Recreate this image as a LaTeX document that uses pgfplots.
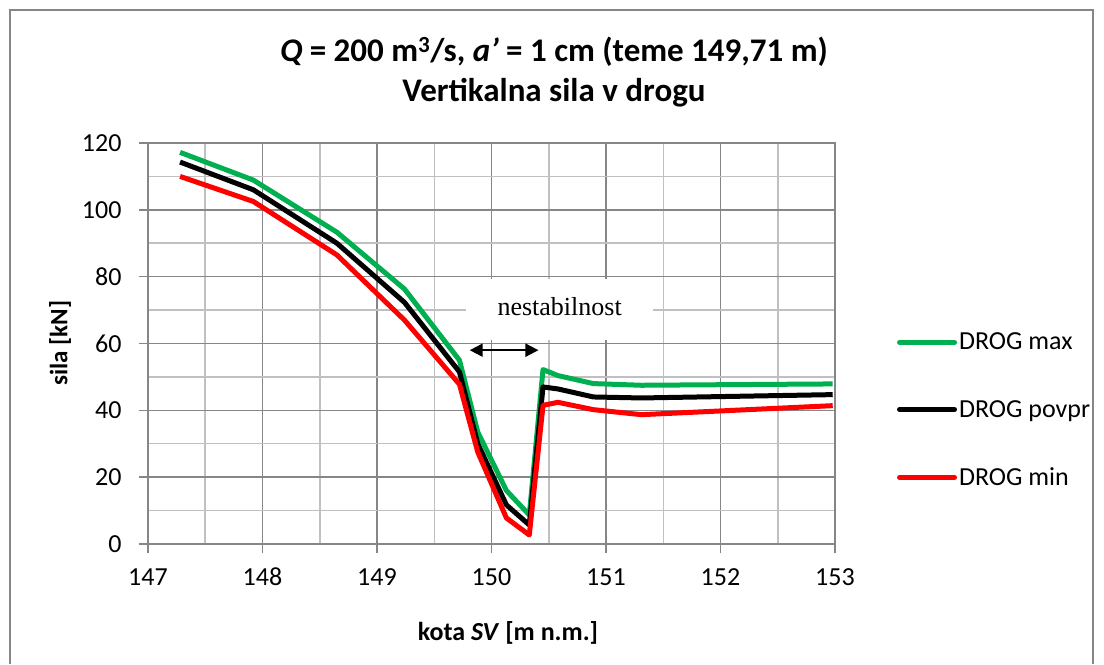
\documentclass[border=0pt]{standalone}
\usepackage{pgfplots}
\pgfplotsset{compat=1.18}
\usepackage{pgfplotstable}
\usetikzlibrary{arrows.meta}
\usepackage{fontspec}
\setmainfont{Carlito}
\newfontfamily\timesfont{Liberation Serif}
\definecolor{xlgreen}{RGB}{0,176,80}
\definecolor{xlred}{RGB}{255,0,0}
\definecolor{gmaj}{RGB}{134,134,134}
\definecolor{gmin}{RGB}{192,192,192}

\pgfplotstableread{
x       gmax   gpov   gmin
147.28  117.2  114.3  110.0
147.92  108.9  106.0  102.5
148.65  93.3   90.0   86.5
149.24  76.3   72.3   67.0
149.72  55.0   51.5   47.8
149.88  33.5   30.0   27.5
150.13  16.0   11.7   7.8
150.33  8.7    5.7    2.7
150.45  52.2   47.0   41.5
150.58  50.4   46.4   42.4
150.89  48.0   44.0   40.2
151.31  47.5   43.7   38.7
152.98  47.9   44.7   41.4
}\datatable

\begin{document}
\begin{tikzpicture}
\path (-148bp,-115bp) rectangle (956bp,544bp);
\draw[gmaj, line width=1.5bp] (-138bp,-120bp) -- (-138bp,534bp) -- (945bp,534bp) -- (945bp,-120bp);
\begin{axis}[
  scale only axis,
  width=687bp, height=401bp,
  xmin=147, xmax=153, ymin=0, ymax=120,
  xtick={147,...,153}, ytick={0,20,...,120},
  minor x tick num=1, minor y tick num=1,
  grid=both,
  major grid style={draw=gmaj, line width=1.5bp},
  minor grid style={draw=gmin, line width=1.5bp},
  axis line style={draw=gmaj, line width=1.5bp},
  tick style={draw=gmaj, line width=1.5bp},
  tick align=outside,
  major tick length=9bp, minor tick length=0pt,
  xtick pos=bottom, ytick pos=left,
  /pgf/number format/assume math mode=true,
  /pgf/number format/.cd, use comma, 1000 sep={},
  /pgfplots/.cd,
  ticklabel style={font=\fontsize{26bp}{30bp}\selectfont},
  yticklabel style={xshift=-14bp},
  xticklabel style={anchor=base, yshift=-32bp},
  legend style={draw=none, fill=none, at={(1.09,0.334)}, anchor=west,
    font=\fontsize{26bp}{30bp}\selectfont, row sep=45bp,
    inner sep=0pt, cells={anchor=west}},
  legend image code/.code={\draw[#1, line cap=round] (0bp,0bp) -- (55bp,0bp);},
  every axis plot/.append style={line width=5bp, line join=round},
]
\addplot[xlgreen, no markers] table[x=x, y=gmax] {\datatable};
\addlegendentry{DROG max}
\addplot[black, no markers] table[x=x, y=gpov] {\datatable};
\addlegendentry{DROG povpr}
\addplot[xlred, no markers] table[x=x, y=gmin] {\datatable};
\addlegendentry{DROG min}
\fill[white] (axis cs:149.78,61) rectangle (axis cs:151.41,79.3);
\node[font=\timesfont\fontsize{26bp}{30bp}\selectfont] at (axis cs:150.595,71.0) {nestabilnost};
\draw[{Triangle[length=13bp,width=13bp]}-{Triangle[length=13bp,width=13bp]}, line width=2bp] (axis cs:149.81,58) -- (axis cs:150.41,58);
\end{axis}
\node[font=\bfseries\fontsize{33bp}{38bp}\selectfont] at (406bp,492bp) {\textit{Q} = 200 m\textsuperscript{3}/s, \textit{a'} = 1 cm (teme 149,71 m)};
\node[font=\bfseries\fontsize{33bp}{38bp}\selectfont] at (406bp,451bp) {Vertikalna sila v drogu};
\node[font=\bfseries\fontsize{25bp}{29bp}\selectfont, rotate=90] at (-88bp,201bp) {sila [kN]};
\node[font=\bfseries\fontsize{26bp}{30bp}\selectfont] at (360bp,-89bp) {kota \textit{SV} [m n.m.]};
\end{tikzpicture}
\end{document}
